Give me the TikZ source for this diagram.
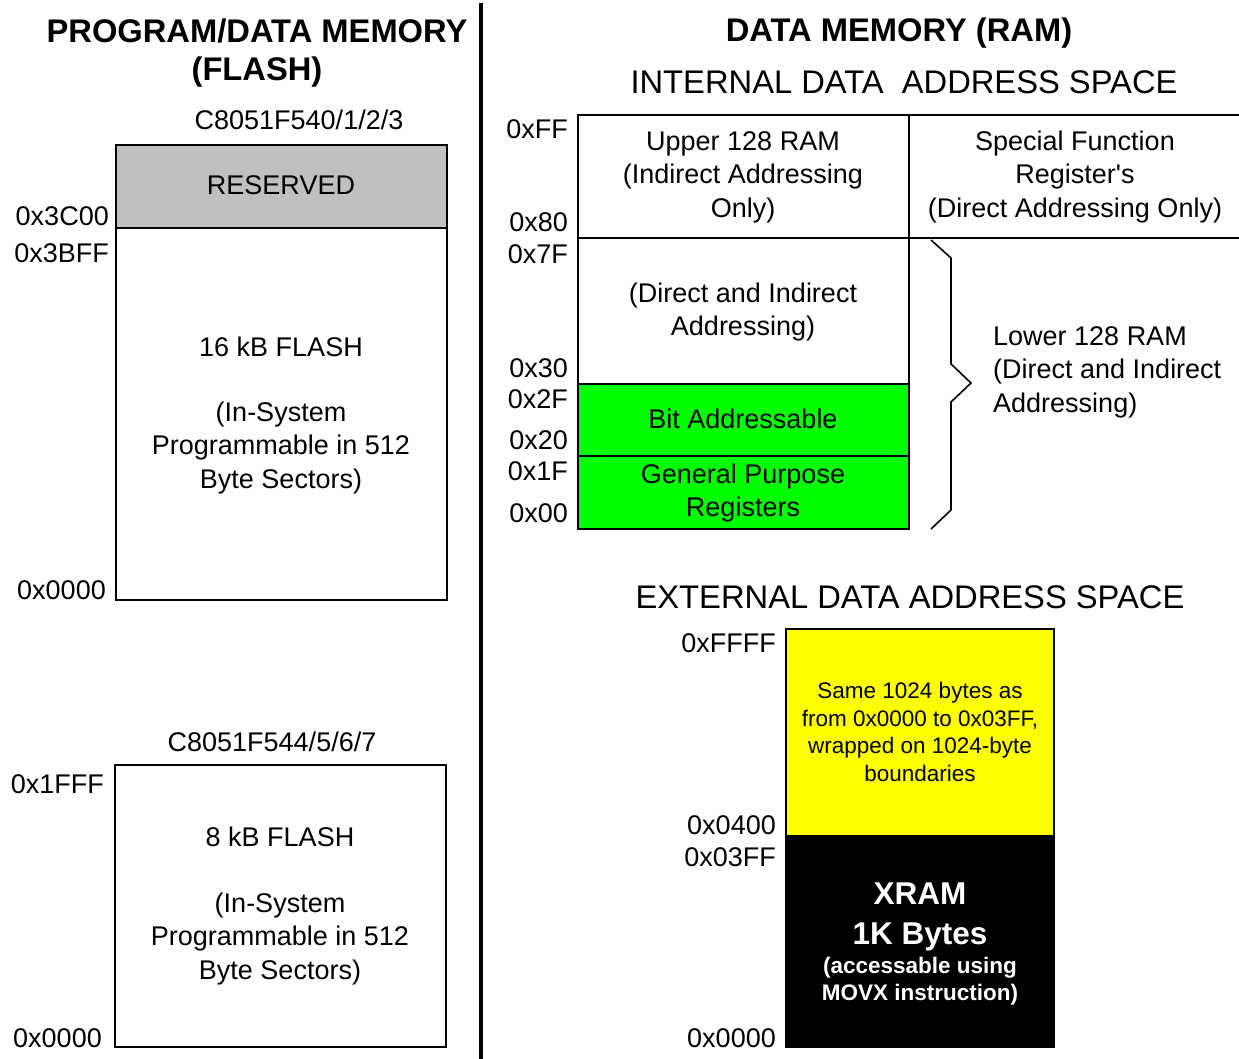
\documentclass[tikz,border=0pt]{standalone}
\usepackage{fontspec}
\setmainfont{Liberation Sans}
\definecolor{resgray}{RGB}{192,192,192}
\definecolor{bitgreen}{RGB}{0,255,0}
\definecolor{extyellow}{RGB}{255,255,0}
\begin{document}
\begin{tikzpicture}[x=1pt,y=-1pt,
  membox/.style={draw,line width=2.5pt,inner sep=0pt,outer sep=0pt,anchor=north west},
  txt/.style={font=\fontsize{27}{33.5}\selectfont,align=center,inner sep=0pt},
  addr/.style={font=\fontsize{27}{33}\selectfont,anchor=east,inner sep=0pt},
  hd/.style={font=\fontsize{32.7}{38}\selectfont\bfseries,align=center,inner sep=0pt},
  sub/.style={font=\fontsize{32.7}{38}\selectfont,inner sep=0pt},
  small/.style={font=\fontsize{22.5}{27.7}\selectfont,align=center,inner sep=0pt},
  xbig/.style={font=\fontsize{31.5}{40}\selectfont\bfseries,align=center,inner sep=0pt,text=white},
  xsmall/.style={font=\fontsize{22.5}{27}\selectfont\bfseries,align=center,inner sep=0pt,text=white}]
\useasboundingbox[fill=white] (0,0) rectangle (1239,1059);

% divider
\draw[line width=4pt] (481,3) -- (481,1059);

% ---------- left: program/data memory ----------
\node[hd] (title1) at (257,53) {PROGRAM/DATA MEMORY\\(FLASH)};
\node[txt] (dev1) at (299,120) {C8051F540/1/2/3};
\node[membox,minimum width=331pt,minimum height=372pt] (flash16) at (116,228) {};
\node[membox,fill=resgray,minimum width=331pt,minimum height=83pt] (res) at (116,145) {};
\node[txt] (restxt) at (281,185) {RESERVED};
\node[txt] (f16a) at (281,347) {16 kB FLASH};
\node[txt] (f16b) at (281,448) {(In-System\\Programmable in 512\\Byte Sectors)};
\node[addr] (a3c00) at (109,216) {0x3C00};
\node[addr] (a3bff) at (109,253) {0x3BFF};
\node[addr] (a0000a) at (106,590) {0x0000};

\node[txt] (dev2) at (272,742) {C8051F544/5/6/7};
\node[membox,minimum width=331pt,minimum height=282pt] (flash8) at (115,765) {};
\node[txt] (f8a) at (280,837) {8 kB FLASH};
\node[txt] (f8b) at (280,939) {(In-System\\Programmable in 512\\Byte Sectors)};
\node[addr] (a1fff) at (104,784) {0x1FFF};
\node[addr] (a0000b) at (102,1038) {0x0000};

% ---------- right: data memory ----------
\node[hd] (title2) at (899,33) {DATA MEMORY (RAM)};
\node[sub] (intl) at (904,82) {INTERNAL DATA\ \ ADDRESS SPACE};

\node[membox,minimum width=331pt,minimum height=123pt] (upper) at (578,115) {};
\node[membox,minimum width=340pt,minimum height=123pt] (sfr) at (909,115) {};
\node[membox,minimum width=331pt,minimum height=146pt] (lower) at (578,238) {};
\node[membox,fill=bitgreen,minimum width=331pt,minimum height=72pt] (bit) at (578,384) {};
\node[membox,fill=bitgreen,minimum width=331pt,minimum height=73pt] (gpr) at (578,456) {};

\node[txt] (uppertxt) at (743,177) {Upper 128 RAM\\(Indirect Addressing\\Only)};
\node[txt] (sfrtxt) at (1075,177) {Special Function\\Register\textquotesingle s\\(Direct Addressing Only)};
\node[txt] (lowertxt) at (743,312) {(Direct and Indirect\\Addressing)};
\node[txt] (bittxt) at (743,419) {Bit Addressable};
\node[txt] (gprtxt) at (743,493) {General Purpose\\Registers};

\node[addr] (aff) at (568,129) {0xFF};
\node[addr] (a80) at (568,222) {0x80};
\node[addr] (a7f) at (568,254) {0x7F};
\node[addr] (a30) at (568,368) {0x30};
\node[addr] (a2f) at (568,399) {0x2F};
\node[addr] (a20) at (568,440) {0x20};
\node[addr] (a1f) at (568,471) {0x1F};
\node[addr] (a00) at (568,513) {0x00};

% brace
\draw[line width=1.6pt,line join=miter] (931,240) -- (951,258) -- (951,364) -- (971,383) -- (951,402) -- (951,510) -- (931,529);
\node[txt,align=left,anchor=west] (lowerlbl) at (993,372) {Lower 128 RAM\\(Direct and Indirect\\Addressing)};

% external
\node[sub] (extl) at (910,597) {EXTERNAL DATA ADDRESS SPACE};
\node[membox,fill=extyellow,minimum width=268pt,minimum height=207pt] (wrap) at (786,629) {};
\node[membox,fill=black,minimum width=268pt,minimum height=211pt] (xram) at (786,836) {};
\node[small] (wraptxt) at (920,732) {Same 1024 bytes as\\from 0x0000 to 0x03FF,\\wrapped on 1024-byte\\boundaries};
\node[xbig] (xramtxt) at (920,917) {XRAM\\1K Bytes};
\node[xsmall] (xramsub) at (920,981) {(accessable using\\MOVX instruction)};

\node[addr] (affff) at (776,643) {0xFFFF};
\node[addr] (a0400) at (776,825) {0x0400};
\node[addr] (a03ff) at (776,857) {0x03FF};
\node[addr] (a0000c) at (776,1038) {0x0000};
\end{tikzpicture}
\end{document}
